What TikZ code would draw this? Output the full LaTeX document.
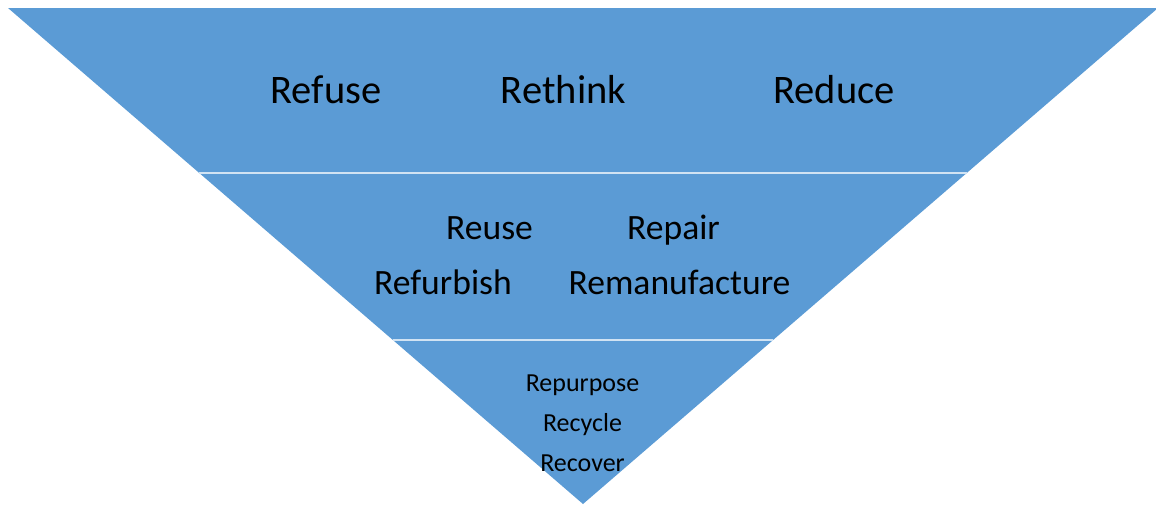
\documentclass[tikz,border=0pt]{standalone}
\usepackage{fontspec}
\setmainfont{Carlito}
\usetikzlibrary{calc}
\usetikzlibrary{positioning}

\definecolor{tierblue}{HTML}{5B9BD5}

\begin{document}
\begin{tikzpicture}[
    x=1pt, y=-1pt,
    bigword/.style={anchor=base, inner sep=0pt, font=\fontsize{40.5}{48}\selectfont},
    midword/.style={anchor=base, inner sep=0pt, font=\fontsize{35.6}{42}\selectfont},
    smallword/.style={anchor=base, inner sep=0pt, font=\fontsize{26}{31}\selectfont},
    tierline/.style={draw=white!72!tierblue, line width=2.2pt},
]
    \useasboundingbox (0, 0) rectangle (1156, 504);

    % Triangle
    \coordinate (top_left) at (8, 8);
    \coordinate (top_right) at (1158, 8);
    \coordinate (apex) at (583, 504);
    \fill [tierblue] (top_left) -- (top_right) -- (apex) -- cycle;

    % Tier borders
    \draw [tierline] ($(top_left)!0.3327!(apex)$) -- ($(top_right)!0.3327!(apex)$);
    \draw [tierline] ($(top_left)!0.6694!(apex)$) -- ($(top_right)!0.6694!(apex)$);

    % Top tier
    \node at (326, 103) [bigword](refuse){Refuse};
    \node at (563.5, 103) [bigword](rethink){Rethink};
    \node at (834, 103) [bigword](reduce){Reduce};

    % Middle tier
    \node at (489.5, 239) [midword](reuse){Reuse};
    \node at (673.5, 239) [midword](repair){Repair};
    \node at (443, 294) [midword](refurbish){Refurbish};
    \node at (679.5, 294) [midword](remanufacture){Remanufacture};

    % Bottom tier
    \node at (582.5, 391) [smallword](repurpose){Repurpose};
    \node at (582.5, 431) [smallword](recycle){Recycle};
    \node at (582.5, 471) [smallword](recover){Recover};

\end{tikzpicture}
\end{document}
